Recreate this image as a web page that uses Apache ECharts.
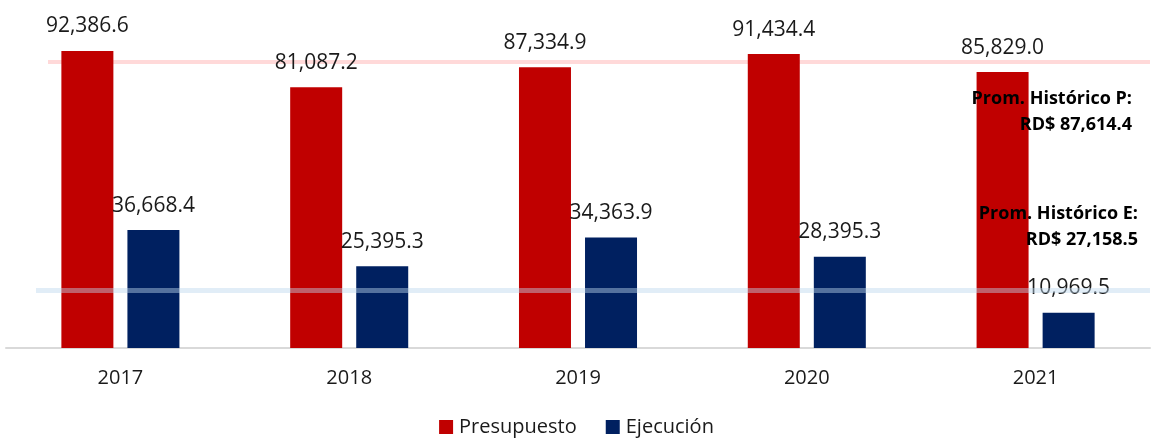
<!DOCTYPE html>
<html>
<head>
<meta charset="utf-8">
<script src="https://cdn.jsdelivr.net/npm/echarts@6/dist/echarts.min.js"></script>
<style>
  html, body { margin: 0; padding: 0; background: #fff; }
  #chart { width: 1153px; height: 442px; }
</style>
</head>
<body>
<div id="chart"></div>
<script>
  // datos (millones RD$)
  const years = ['2017', '2018', '2019', '2020', '2021'];
  const presupuesto = [92386.6, 81087.2, 87334.9, 91434.4, 85829.0];
  const ejecucion = [36668.4, 25395.3, 34363.9, 28395.3, 10969.5];
  // posición de las líneas de promedio tal como aparecen dibujadas
  const lineaP = 88950;
  const lineaE = 18050;
  const notaP = ['Prom. Histórico P:', 'RD$ 87,614.4'];
  const notaE = ['Prom. Histórico E:', 'RD$ 27,158.5'];

  const fmt = v => v.toLocaleString('en-US', { minimumFractionDigits: 1, maximumFractionDigits: 1 });
  const font = '"Open Sans", "Liberation Sans", sans-serif';

  // una línea de texto de la nota, alineada a la derecha
  function nota(text, x, y) {
    return {
      type: 'text',
      x: x,
      y: y,
      z: 100,
      style: {
        text: text,
        align: 'right',
        textAlign: 'right',
        verticalAlign: 'middle',
        textVerticalAlign: 'middle',
        font: 'bold 18px ' + font,
        fill: '#000'
      }
    };
  }

  const chart = echarts.init(document.getElementById('chart'));
  const option = {
    animation: false,
    textStyle: { fontFamily: font },
    grid: { left: 6, right: 3, top: 26.5, bottom: 94 },
    legend: {
      bottom: 0,
      left: 'center',
      itemWidth: 14,
      itemHeight: 14,
      itemGap: 29,
      icon: 'rect',
      textStyle: { fontSize: 20, color: '#1a1a1a', fontFamily: font, padding: [0, 0, 0, 1] },
      data: ['Presupuesto', 'Ejecución']
    },
    xAxis: {
      type: 'category',
      data: years,
      axisLine: { lineStyle: { color: '#d9d9d9', width: 2 } },
      axisTick: { show: false },
      axisLabel: { fontSize: 20, color: '#1a1a1a', margin: 20 }
    },
    yAxis: {
      type: 'value',
      min: 0,
      max: 100000,
      show: false,
      splitLine: { show: false }
    },
    series: [
      {
        name: 'Presupuesto',
        type: 'bar',
        data: presupuesto,
        barWidth: 52,
        barGap: '27%',
        itemStyle: { color: '#C00000' },
        label: {
          show: true,
          position: 'top',
          distance: 14,
          fontSize: 21,
          color: '#1a1a1a',
          formatter: p => fmt(p.value)
        },
        markLine: {
          silent: true,
          symbol: 'none',
          z: 1,
          label: { show: false },
          lineStyle: { color: '#FFD9D9', width: 4, type: 'solid' },
          data: [[{ yAxis: lineaP, x: 48 }, { yAxis: lineaP, x: 1150 }]]
        }
      },
      {
        name: 'Ejecución',
        type: 'bar',
        data: ejecucion,
        barWidth: 52,
        itemStyle: { color: '#002060' },
        label: {
          show: true,
          position: 'top',
          distance: 14,
          fontSize: 21,
          color: '#1a1a1a',
          formatter: p => fmt(p.value)
        },
        markLine: {
          silent: true,
          symbol: 'none',
          label: { show: false },
          lineStyle: { color: 'rgba(189,215,238,0.45)', width: 5, type: 'solid' },
          data: [[{ yAxis: lineaE, x: 36 }, { yAxis: lineaE, x: 1150 }]]
        }
      }
    ],
    graphic: [
      nota(notaP[0], 1132, 99),
      nota(notaP[1], 1132, 125),
      nota(notaE[0], 1138, 214),
      nota(notaE[1], 1138, 240)
    ]
  };
  chart.setOption(option);
</script>
</body>
</html>
